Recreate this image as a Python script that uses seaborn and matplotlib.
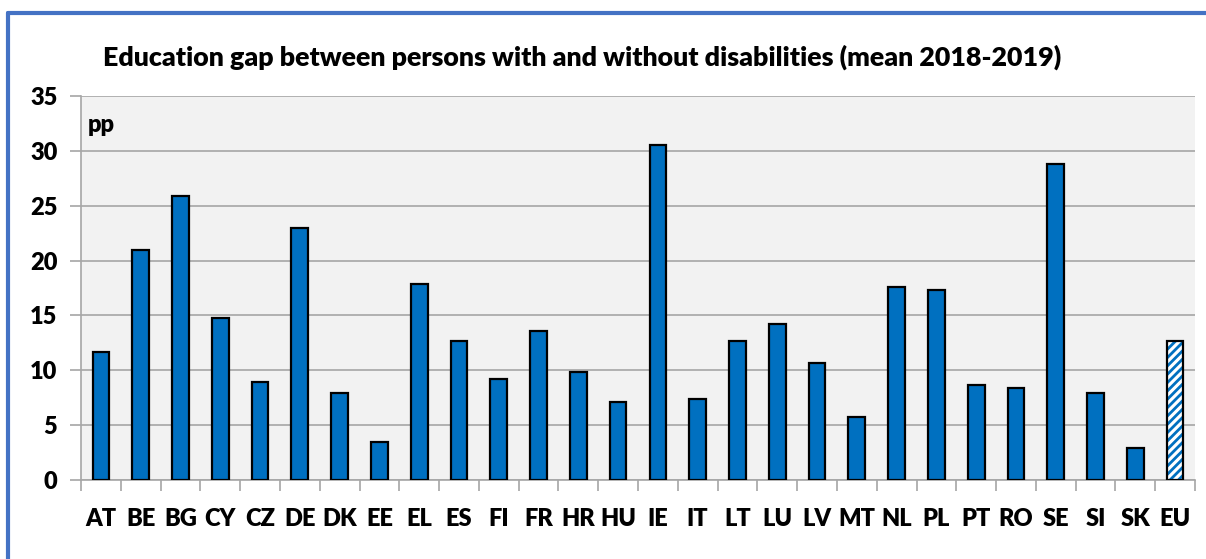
import matplotlib
matplotlib.use('Agg')
import matplotlib.pyplot as plt
import seaborn as sns
import pandas as pd
import numpy as np
from matplotlib.lines import Line2D
from matplotlib.patches import Rectangle

# Datos (pp, media 2018-2019)
countries = ['AT', 'BE', 'BG', 'CY', 'CZ', 'DE', 'DK', 'EE', 'EL', 'ES', 'FI', 'FR', 'HR', 'HU',
             'IE', 'IT', 'LT', 'LU', 'LV', 'MT', 'NL', 'PL', 'PT', 'RO', 'SE', 'SI', 'SK', 'EU']
gap_pp = [11.7, 21.0, 25.9, 14.8, 8.9, 23.0, 7.9, 3.5, 17.9, 12.7, 9.2, 13.6, 9.8, 7.1,
          30.5, 7.4, 12.7, 14.2, 10.7, 5.7, 17.6, 17.3, 8.7, 8.4, 28.8, 7.9, 2.9, 12.7]
y_ticks = [0, 5, 10, 15, 20, 25, 30, 35]

title = 'Education gap between persons with and without disabilities (mean 2018-2019)'
blue = '#0070C0'
grid_gray = '#A6A6A6'

df = pd.DataFrame({'country': countries, 'gap': gap_pp})

sns.set_theme(style='white')
plt.rcParams['font.family'] = ['Lato', 'DejaVu Sans']
plt.rcParams['font.weight'] = 'heavy'
plt.rcParams['hatch.linewidth'] = 2.0

fig = plt.figure(figsize=(12.06, 5.59), dpi=100)
ax = fig.add_axes([81 / 1206, 79 / 559, 1114 / 1206, 384 / 559])

sns.barplot(data=df, x='country', y='gap', color=blue, saturation=1, width=0.42,
            edgecolor='black', linewidth=1.6, ax=ax, zorder=3)

# Barra EU con rayado
eu = ax.patches[len(countries) - 1]
eu.set_facecolor('white')
eu.set_edgecolor(blue)
eu.set_hatch('////')
eu.set_linewidth(0)
ax.add_patch(Rectangle(eu.get_xy(), eu.get_width(), eu.get_height(), fill=False,
                       edgecolor='black', linewidth=1.6, zorder=4))

ax.set_facecolor('#F2F2F2')
ax.set_axisbelow(True)
ax.yaxis.grid(True, color=grid_gray, linewidth=1.2)
ax.xaxis.grid(False)
ax.set_ylim(0, 35)
ax.set_xlim(-0.5, len(countries) - 0.5)
ax.set_yticks(y_ticks)
ax.set_xlabel('')
ax.set_ylabel('')

for side in ['top', 'right']:
    ax.spines[side].set_visible(False)
for side in ['left', 'bottom']:
    ax.spines[side].set_color(grid_gray)
    ax.spines[side].set_linewidth(1.2)

ax.tick_params(axis='y', which='major', left=True, length=8, width=1.2, color=grid_gray,
               pad=9, labelsize=17, labelcolor='black')
ax.tick_params(axis='x', which='major', bottom=True, length=0, pad=20, labelsize=17, labelcolor='black')
ax.set_xticks(np.arange(-0.5, len(countries), 1), minor=True)
ax.tick_params(axis='x', which='minor', bottom=True, length=8, width=1.2, color=grid_gray)

ax.text(0.006, 0.924, 'pp', transform=ax.transAxes, fontsize=17,
        ha='left', va='center', color='black')

fig.text(103 / 1206, 1 - 57 / 559, title, fontsize=19.3,
         ha='left', va='center', color='black')

# Marco azul (recortado)
frame = '#4472C4'
fig.add_artist(Line2D([8 / 1206, 1], [1 - 13 / 559, 1 - 13 / 559], transform=fig.transFigure,
                      color=frame, linewidth=3))
fig.add_artist(Line2D([8 / 1206, 8 / 1206], [0, 1 - 13 / 559], transform=fig.transFigure,
                      color=frame, linewidth=3))

fig.savefig('out.png', dpi=100)
